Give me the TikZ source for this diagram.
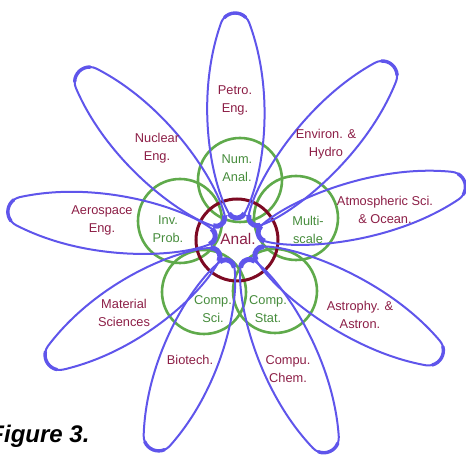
\documentclass[tikz,border=0pt]{standalone}
\usepackage{fontspec}
\setmainfont{Liberation Sans}
\usepackage{tikz}
\usetikzlibrary{positioning}

\definecolor{petalblue}{RGB}{95,85,235}
\definecolor{ringgreen}{RGB}{95,170,75}
\definecolor{corered}{RGB}{125,10,35}
\definecolor{applred}{RGB}{140,30,70}
\definecolor{methgreen}{RGB}{70,140,60}

\begin{document}
\begin{tikzpicture}[x=1pt, y=1pt]
  \tikzstyle{petalline} = [draw=petalblue, line width=2pt]
  \tikzstyle{methodring} = [circle, draw=ringgreen, line width=2.6pt, minimum size=84pt, inner sep=0pt]
  \tikzstyle{corering} = [circle, draw=corered, line width=3pt, minimum size=82pt, inner sep=0pt]
  \tikzstyle{applabel} = [text=applred, align=center, font=\fontsize{12.8}{18}\selectfont]
  \tikzstyle{methlabel} = [text=methgreen, align=center, font=\fontsize{12.8}{18}\selectfont]

  \useasboundingbox (-237,-222) rectangle (229,240);

  % method circles
  \node[methodring] (num_c) at (3,60) {};
  \node[methodring] (inv_c) at (-57,19) {};
  \node[methodring] (multi_c) at (59,22) {};
  \node[methodring] (sci_c) at (-33,-52) {};
  \node[methodring] (stat_c) at (38,-51) {};
  \node[corering] (anal_c) at (0,0) {};

  % petals
  \foreach \a/\l in {90.5/227, 48.5/234, 14/235, -30/236, -66.3/231, -111.8/226, -147/226, 172.5/231, 133/231} {
    \begin{scope}[rotate=\a]
      \draw[petalline] (26.5,-7.79) arc[start angle=240, end angle=120, radius=9]
        .. controls (56.8,25.3) and ({\l-85},41.3) .. ({\l-9.87},14.1)
        arc[start angle=70, end angle=-70, radius=15]
        .. controls ({\l-85},-41.3) and (56.8,-25.3) .. (26.5,-7.79);
      \draw[petalline, line width=5pt] (26.5,-7.79) arc[start angle=240, end angle=120, radius=9];
      \draw[petalline, line width=3.4pt, line cap=round] ({\l-15+15*cos(45)},{15*sin(45)}) arc[start angle=45, end angle=-45, radius=15];
    \end{scope}
  }

  % application labels
  \node[applabel] (petro) at (-2,140) {Petro.\\Eng.};
  \node[applabel] (nuclear) at (-80,92) {Nuclear\\Eng.};
  \node[applabel] (environ) at (89,96) {Environ. \&\\Hydro};
  \node[applabel] (atmos) at (148,30) {Atmospheric Sci.\\\& Ocean.};
  \node[applabel] (astro) at (123,-75) {Astrophy. \&\\Astron.};
  \node[applabel] (chem) at (51,-129) {Compu.\\Chem.};
  \node[applabel] (biotech) at (-47,-120) {Biotech.};
  \node[applabel] (material) at (-113,-73) {Material\\Sciences};
  \node[applabel] (aero) at (-135,20) {Aerospace\\Eng.};

  % method labels
  \node[methlabel] (num) at (0,72) {Num.\\Anal.};
  \node[methlabel] (inv) at (-69,11) {Inv.\\Prob.};
  \node[methlabel] (multi) at (71,10) {Multi-\\scale};
  \node[methlabel] (sci) at (-24,-69) {Comp.\\Sci.};
  \node[methlabel] (stat) at (31,-69) {Comp.\\Stat.};
  \node[text=applred, font=\fontsize{15.4}{18}\selectfont] (anal) at (1,1) {Anal.};

  \node[anchor=base east, font=\fontsize{24}{28}\selectfont\bfseries\itshape] (caption) at (-144,-203) {Figure 3.};
\end{tikzpicture}
\end{document}
